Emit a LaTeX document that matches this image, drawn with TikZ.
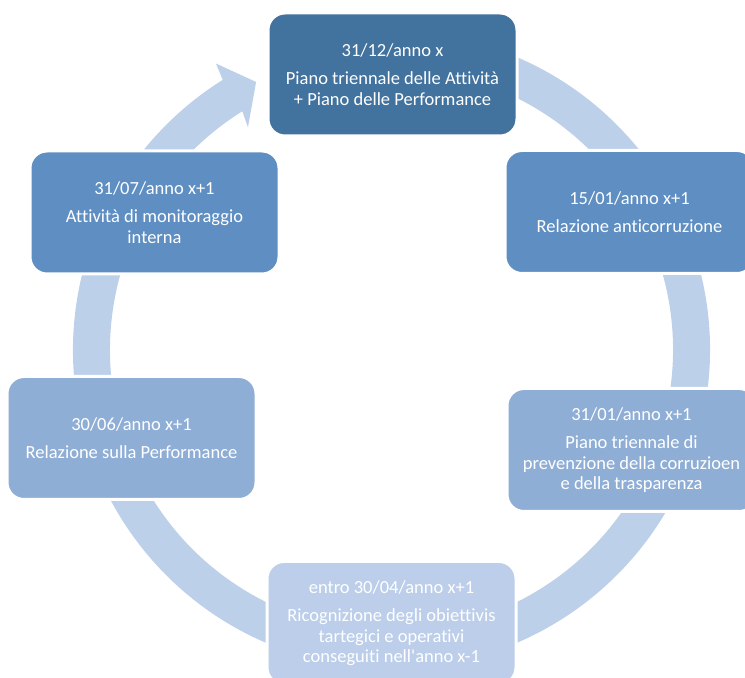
\documentclass[tikz,border=0pt]{standalone}
\usepackage{fontspec}
\setmainfont{Carlito}[Ligatures={NoCommon}]
\definecolor{ringc}{RGB}{189,208,234}
\definecolor{topc}{RGB}{66,114,158}
\definecolor{midc}{RGB}{94,142,194}
\definecolor{lowc}{RGB}{143,174,214}
\definecolor{botc}{RGB}{188,206,233}
\tikzset{
  stagebox/.style={draw=white, line width=3pt, rounded corners=17pt, inner sep=0pt,
    text=white, align=center, font=\fontsize{18.5pt}{20.5pt}\selectfont,
    minimum width=249pt, minimum height=123pt},
  ringshape/.style={fill=ringc, draw=none}
}
\begin{document}
\begin{tikzpicture}[x=1pt,y=1pt]
\useasboundingbox (0,0) rectangle (745,678);
\clip (0,0) rectangle (745,678);
% ring with arrowhead
\begin{scope}[shift={(391.5,328)}]
\path[ringshape] (80:318.5) arc[start angle=80, end angle=-238, radius=318.5pt]
  -- (121.5:336) -- (116.8:300.3) -- (122.8:265) -- (122:281.5)
  arc[start angle=-238, end angle=80, radius=281.5pt] -- cycle;
\end{scope}
% boxes
\node[stagebox, fill=topc] (top) at (392.5,603.5) {31/12/anno x\\[8pt]Piano triennale delle Attività\\+ Piano delle Performance};
\node[stagebox, fill=midc] (ru) at (629.5,466) {15/01/anno x+1\\[8pt]Relazione anticorruzione};
\node[stagebox, fill=lowc] (rl) at (631.5,228) {31/01/anno x+1\\[8pt]Piano triennale di\\prevenzione della corruzioen\\e della trasparenza};
\node[stagebox, fill=botc] (bt) at (391.5,55) {entro 30/04/anno x+1\\[8pt]Ricognizione degli obiettivis\\tartegici e operativi\\conseguiti nell\textquotesingle anno x-1};
\node[stagebox, fill=lowc] (ll) at (131.5,240) {30/06/anno x+1\\[8pt]Relazione sulla Performance};
\node[stagebox, fill=midc] (lu) at (154.5,465.5) {31/07/anno x+1\\[8pt]Attività di monitoraggio\\interna};
\end{tikzpicture}
\end{document}
